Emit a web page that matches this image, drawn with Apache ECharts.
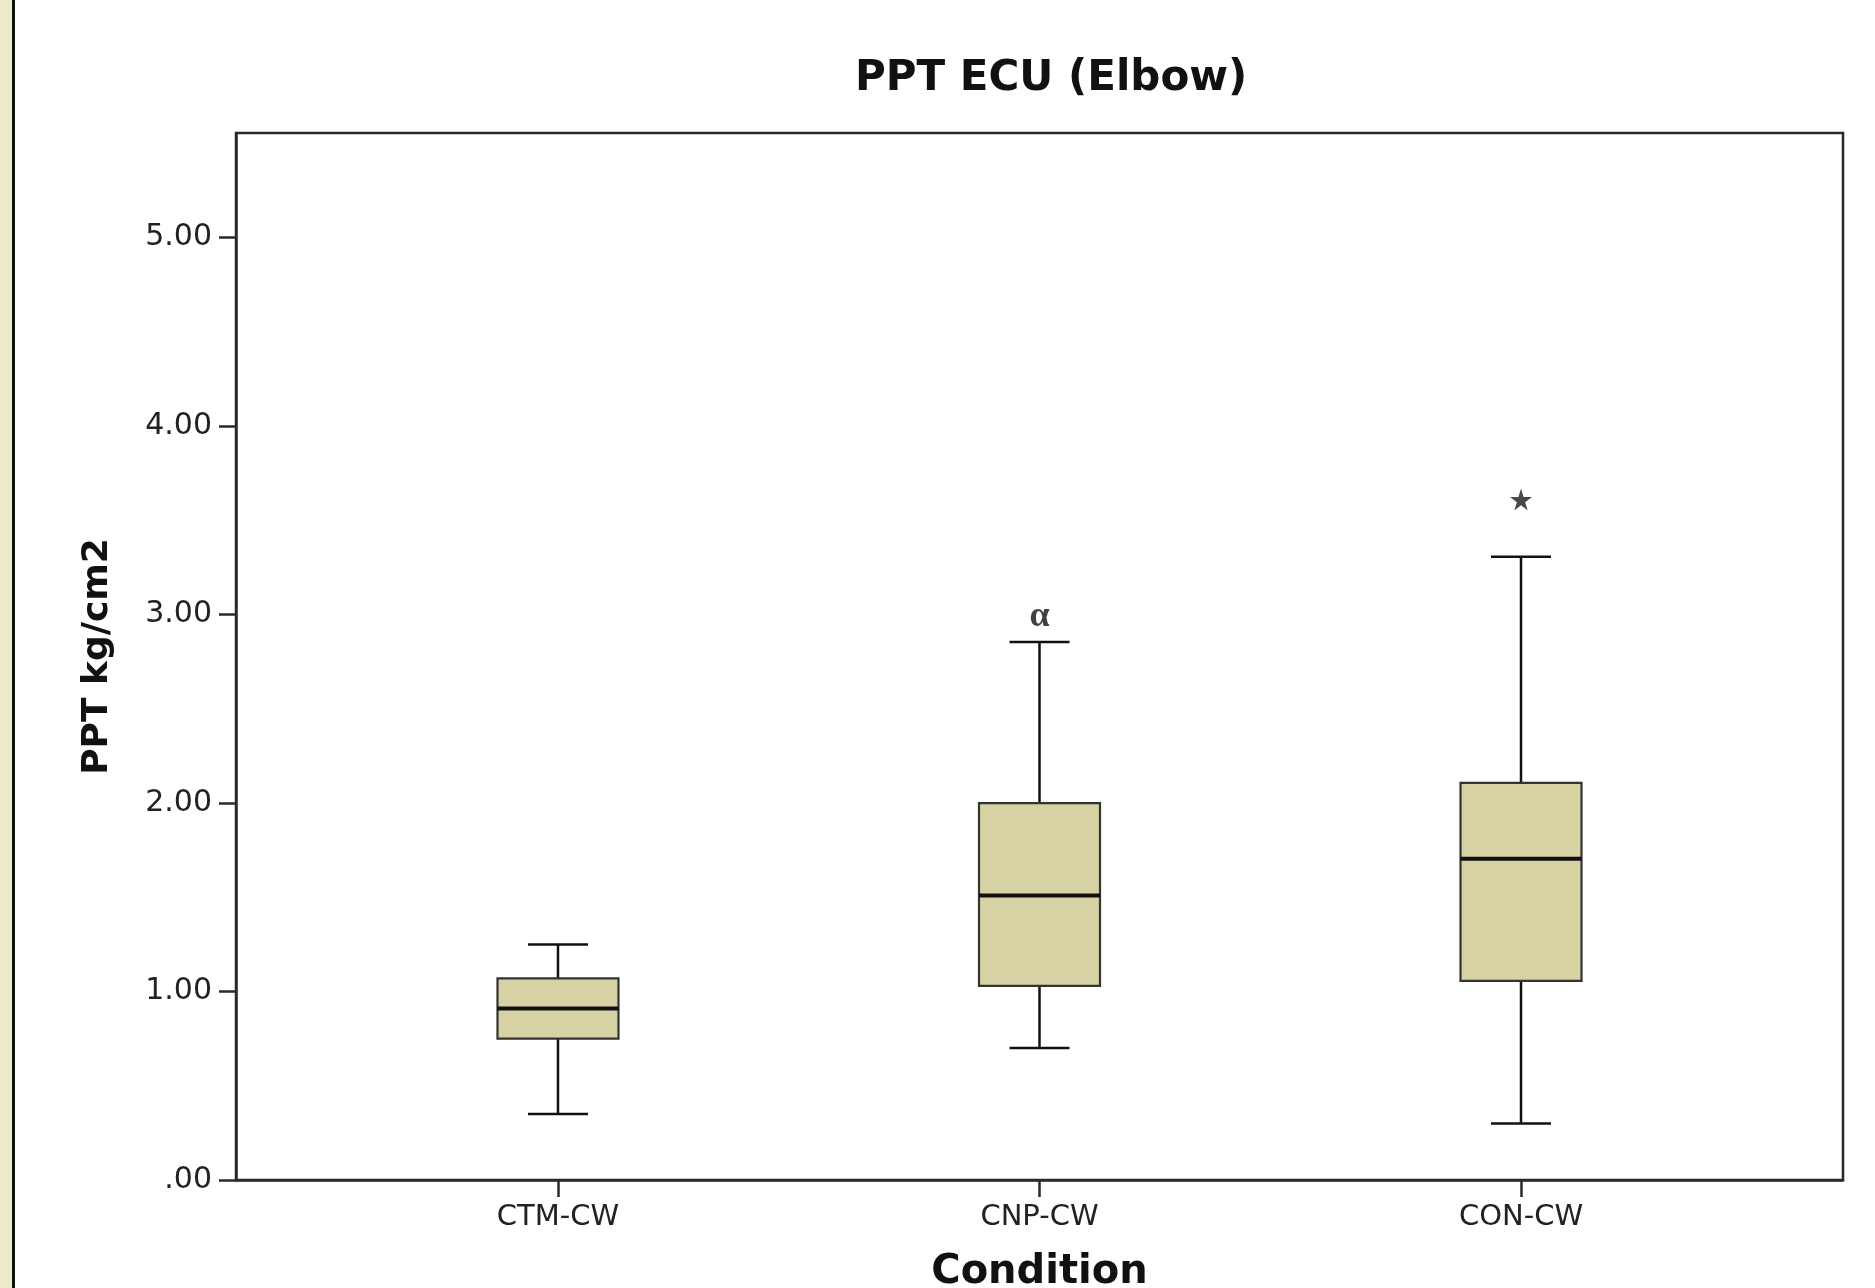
<!DOCTYPE html>
<html>
<head>
<meta charset="utf-8">
<script src="https://cdn.jsdelivr.net/npm/echarts@6/dist/echarts.min.js"></script>
<style>
html,body{margin:0;padding:0;background:#fff;}
#chart{width:1875px;height:1288px;}
</style>
</head>
<body>
<div id="chart"></div>
<script>
// ---- data ----
const categories = ['CTM-CW', 'CNP-CW', 'CON-CW'];
const whiskerLow  = [0.35, 0.70, 0.30];
const quartile1   = [0.75, 1.03, 1.056];
const medians     = [0.91, 1.51, 1.704];
const quartile3   = [1.07, 2.00, 2.107];
const whiskerHigh = [1.25, 2.855, 3.307];
const extremes    = [[2, 3.61]];          // '*' extreme value (category index, value)
const alphaMarks  = [[1, 2.99]];          // 'α' annotation (category index, value)
const yTickValues = [0, 1, 2, 3, 4, 5];
const yTickLabels = ['.00', '1.00', '2.00', '3.00', '4.00', '5.00'];

const boxData = categories.map((c, i) => [i, whiskerLow[i], quartile1[i], medians[i], quartile3[i], whiskerHigh[i]]);

const BOX_PX = 121, CAP_PX = 60;
const FONT = 'DejaVu Sans, Verdana, sans-serif';

const chart = echarts.init(document.getElementById('chart'), null, {renderer: 'canvas'});
chart.setOption({
  animation: false,
  backgroundColor: '#ffffff',
  title: {
    text: 'PPT ECU (Elbow)',
    left: 850, top: 53,
    textStyle: {fontFamily: FONT, fontWeight: 'bold', fontSize: 42, color: '#111'}
  },
  graphic: [
    {type: 'rect', left: 0, top: 0, shape: {width: 12, height: 1288}, style: {fill: '#edebc9'}, silent: true},
    {type: 'line', shape: {x1: 13.5, y1: 0, x2: 13.5, y2: 1288}, style: {stroke: '#111', lineWidth: 3}, silent: true}
  ],
  grid: {
    left: 236, right: 32, top: 133, bottom: 108,
    outerBoundsMode: 'none', containLabel: false,
    show: true, borderColor: '#2a2a2a', borderWidth: 2.5, backgroundColor: '#fff'
  },
  xAxis: {
    type: 'value', min: -0.6687, max: 2.6687,
    splitLine: {show: false},
    axisLine: {show: true, onZero: false, lineStyle: {color: '#2a2a2a', width: 2.5}},
    axisTick: {show: true, customValues: [0, 1, 2], length: 17, lineStyle: {color: '#2a2a2a', width: 2.5}},
    axisLabel: {
      customValues: [0, 1, 2],
      formatter: v => categories[Math.round(v)],
      fontFamily: FONT, fontSize: 29, margin: 23, color: '#222'
    },
    name: 'Condition', nameLocation: 'middle', nameGap: 73,
    nameTextStyle: {fontFamily: FONT, fontWeight: 'bold', fontSize: 40, color: '#111'}
  },
  yAxis: {
    type: 'value', min: 0, max: 5.555,
    splitLine: {show: false},
    axisLine: {show: true, onZero: false, lineStyle: {color: '#2a2a2a', width: 2.5}},
    axisTick: {show: true, customValues: yTickValues, length: 17, lineStyle: {color: '#2a2a2a', width: 2.5}},
    axisLabel: {
      customValues: yTickValues,
      formatter: v => yTickLabels[yTickValues.indexOf(Math.round(v))],
      fontFamily: FONT, fontSize: 30, margin: 24, color: '#222'
    },
    name: 'PPT kg/cm2', nameLocation: 'middle', nameGap: 120,
    nameTextStyle: {fontFamily: FONT, fontWeight: 'bold', fontSize: 36, color: '#111'}
  },
  series: [
    {
      type: 'custom',
      data: boxData,
      encode: {x: 0, y: [1, 2, 3, 4, 5]},
      renderItem: function (params, api) {
        const x = api.value(0);
        const pLow = api.coord([x, api.value(1)]);
        const pQ1 = api.coord([x, api.value(2)]);
        const pMed = api.coord([x, api.value(3)]);
        const pQ3 = api.coord([x, api.value(4)]);
        const pHigh = api.coord([x, api.value(5)]);
        const cx = pMed[0];
        const wStyle = {stroke: '#111', lineWidth: 2.5};
        return {
          type: 'group',
          children: [
            {type: 'line', shape: {x1: cx, y1: pHigh[1], x2: cx, y2: pQ3[1]}, style: wStyle},
            {type: 'line', shape: {x1: cx, y1: pQ1[1], x2: cx, y2: pLow[1]}, style: wStyle},
            {type: 'line', shape: {x1: cx - CAP_PX / 2, y1: pHigh[1], x2: cx + CAP_PX / 2, y2: pHigh[1]}, style: wStyle},
            {type: 'line', shape: {x1: cx - CAP_PX / 2, y1: pLow[1], x2: cx + CAP_PX / 2, y2: pLow[1]}, style: wStyle},
            {type: 'rect', shape: {x: cx - BOX_PX / 2, y: pQ3[1], width: BOX_PX, height: pQ1[1] - pQ3[1]},
              style: {fill: '#d7d2a3', stroke: '#333', lineWidth: 2.2}},
            {type: 'line', shape: {x1: cx - BOX_PX / 2, y1: pMed[1], x2: cx + BOX_PX / 2, y2: pMed[1]},
              style: {stroke: '#111', lineWidth: 4}}
          ]
        };
      }
    },
    {
      type: 'scatter',
      data: extremes,
      symbol: 'path://M50,0 L61,35 L98,35 L68,57 L79,92 L50,70 L21,92 L32,57 L2,35 L39,35 Z',
      symbolSize: 22,
      itemStyle: {color: '#1a1a1a'}
    },
    {
      type: 'scatter',
      data: alphaMarks,
      symbol: 'circle',
      symbolSize: 1,
      itemStyle: {color: 'rgba(0,0,0,0)'},
      label: {
        show: true, position: 'inside', formatter: 'α',
        fontFamily: 'Liberation Serif, serif', fontSize: 36, fontWeight: 'bold', color: '#111'
      }
    }
  ]
});
</script>
</body>
</html>
